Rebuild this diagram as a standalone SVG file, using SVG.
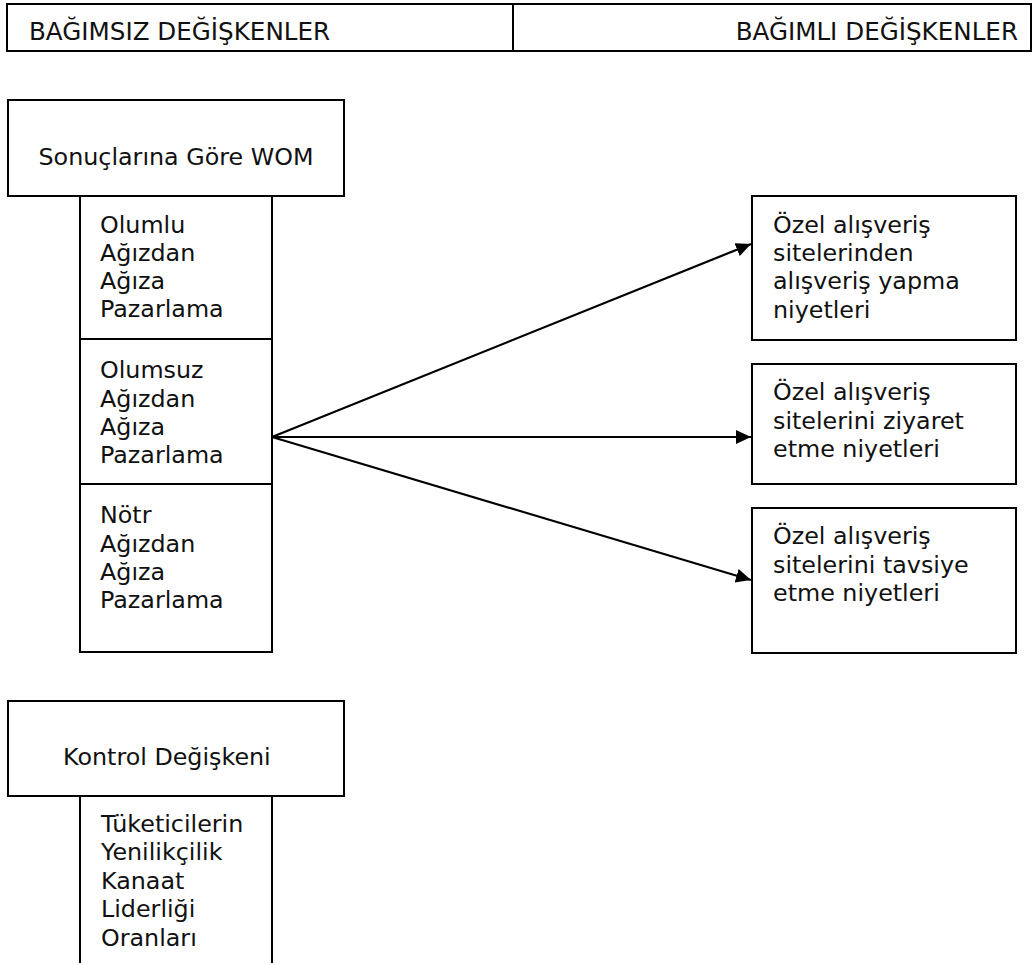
<svg xmlns="http://www.w3.org/2000/svg" width="1033" height="963" viewBox="0 0 1033 963">
<style>
.box{fill:#fff;stroke:#000;stroke-width:2}
.ln{fill:none;stroke:#000;stroke-width:2}
.t{font-family:"DejaVu Sans","Verdana",sans-serif;font-size:23.8px;fill:#111}
.h{font-family:"DejaVu Sans","Verdana",sans-serif;font-size:24.6px;fill:#111}
.c{stroke:#000;stroke-width:2.2;fill:none;marker-end:url(#ah)}
</style>
<defs>
<marker id="ah" markerUnits="userSpaceOnUse" markerWidth="16" markerHeight="16" refX="15" refY="7" orient="auto">
<path d="M0,0 L15,7 L0,14 z" fill="#000"/>
</marker>
</defs>
<rect width="1033" height="963" fill="#fff"/>
<g id="header">
<rect class="box" x="7" y="4" width="1024" height="47"/>
<line class="ln" x1="513" y1="4" x2="513" y2="51"/>
<text class="h" x="29" y="40">BAĞIMSIZ DEĞİŞKENLER</text>
<text class="h" x="1018" y="40" text-anchor="end">BAĞIMLI DEĞİŞKENLER</text>
</g>
<g id="wom">
<rect class="box" x="8" y="100" width="336" height="96"/>
<text class="t" x="176" y="165" text-anchor="middle">Sonuçlarına Göre WOM</text>
</g>
<g id="wom-sub">
<rect class="box" x="80" y="196" width="192" height="456"/>
<line class="ln" x1="80" y1="339" x2="272" y2="339"/>
<line class="ln" x1="80" y1="484" x2="272" y2="484"/>
</g>
<g id="olumlu">
<text class="t" x="100" y="233">Olumlu</text>
<text class="t" x="100" y="261">Ağızdan</text>
<text class="t" x="100" y="289">Ağıza</text>
<text class="t" x="100" y="317">Pazarlama</text>
</g>
<g id="olumsuz">
<text class="t" x="100" y="378">Olumsuz</text>
<text class="t" x="100" y="407">Ağızdan</text>
<text class="t" x="100" y="435">Ağıza</text>
<text class="t" x="100" y="463">Pazarlama</text>
</g>
<g id="notr">
<text class="t" x="100" y="523">Nötr</text>
<text class="t" x="100" y="552">Ağızdan</text>
<text class="t" x="100" y="580">Ağıza</text>
<text class="t" x="100" y="608">Pazarlama</text>
</g>
<g id="kontrol">
<rect class="box" x="8" y="701" width="336" height="95"/>
<text class="t" x="63" y="765">Kontrol Değişkeni</text>
</g>
<g id="kontrol-sub">
<path class="ln" d="M80,796 V963 M272,796 V963"/>
<text class="t" x="101" y="832">Tüketicilerin</text>
<text class="t" x="101" y="860">Yenilikçilik</text>
<text class="t" x="101" y="889">Kanaat</text>
<text class="t" x="101" y="917">Liderliği</text>
<text class="t" x="101" y="946">Oranları</text>
</g>
<g id="dv1">
<rect class="box" x="752" y="196" width="264" height="144"/>
<text class="t" x="773" y="233">Özel alışveriş</text>
<text class="t" x="773" y="261">sitelerinden</text>
<text class="t" x="773" y="289">alışveriş yapma</text>
<text class="t" x="773" y="318">niyetleri</text>
</g>
<g id="dv2">
<rect class="box" x="752" y="364" width="264" height="120"/>
<text class="t" x="773" y="400">Özel alışveriş</text>
<text class="t" x="773" y="429">sitelerini ziyaret</text>
<text class="t" x="773" y="457">etme niyetleri</text>
</g>
<g id="dv3">
<rect class="box" x="752" y="508" width="264" height="145"/>
<text class="t" x="773" y="544">Özel alışveriş</text>
<text class="t" x="773" y="573">sitelerini tavsiye</text>
<text class="t" x="773" y="601">etme niyetleri</text>
</g>
<g id="connectors">
<line class="c" x1="272" y1="437" x2="751" y2="244"/>
<line class="c" x1="272" y1="437" x2="751" y2="437"/>
<line class="c" x1="272" y1="437" x2="751" y2="580"/>
</g>
</svg>
